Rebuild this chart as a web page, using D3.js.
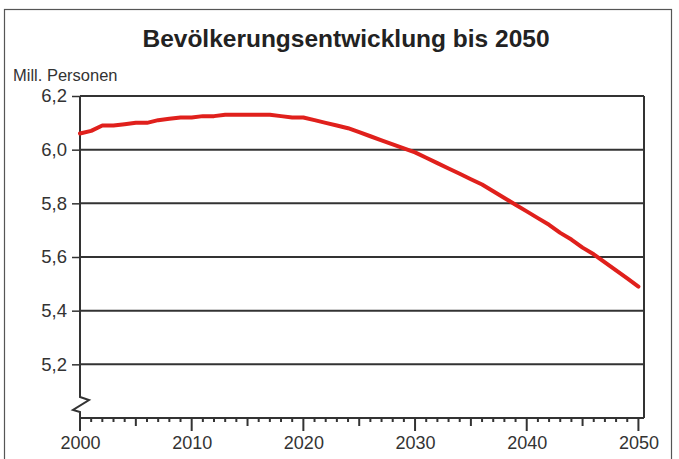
<!DOCTYPE html>
<html>
<head>
<meta charset="utf-8">
<script src="https://cdn.jsdelivr.net/npm/d3@7/dist/d3.min.js"></script>
<style>
  html, body { margin: 0; padding: 0; background: #fff; }
  svg { display: block; }
  text { font-family: "Liberation Sans", Arial, sans-serif; }
</style>
</head>
<body>
<svg id="chart" width="679" height="459"></svg>
<script>
// ---- data ----
const years = [2000,2001,2002,2003,2004,2005,2006,2007,2008,2009,2010,
  2011,2012,2013,2014,2015,2016,2017,2018,2019,2020,
  2021,2022,2023,2024,2025,2026,2027,2028,2029,2030,
  2031,2032,2033,2034,2035,2036,2037,2038,2039,2040,
  2041,2042,2043,2044,2045,2046,2047,2048,2049,2050];
const population = [6.06,6.07,6.09,6.09,6.095,6.10,6.10,6.11,6.115,6.12,6.12,
  6.125,6.125,6.13,6.13,6.13,6.13,6.13,6.125,6.12,6.12,
  6.11,6.10,6.09,6.08,6.065,6.05,6.035,6.02,6.005,5.99,
  5.97,5.95,5.93,5.91,5.89,5.87,5.845,5.82,5.795,5.77,
  5.745,5.72,5.69,5.665,5.635,5.61,5.58,5.55,5.52,5.49];
const yTicks = [5.2,5.4,5.6,5.8,6.0,6.2];
const xTicks = [2000,2010,2020,2030,2040,2050];
const titleText = "Bevölkerungsentwicklung bis 2050";
const yLabel = "Mill. Personen";

// ---- layout ----
const svg = d3.select("#chart");
const pL = 80, pR = 644, pT = 96, pB = 418;
const x = d3.scaleLinear().domain([2000, 2050.5]).range([pL, pR]);
const y = d3.scaleLinear().domain([5.0, 6.2]).range([pB, pT]);
const fmt = d => d.toFixed(1).replace(".", ",");

// outer frame
svg.append("rect").attr("x", 4.5).attr("y", 9.5).attr("width", 667).attr("height", 460)
  .attr("fill", "none").attr("stroke", "#555").attr("stroke-width", 1.2);

// title
svg.append("text").attr("x", 346).attr("y", 47).attr("text-anchor", "middle")
  .attr("font-size", 24.5).attr("font-weight", "bold").attr("fill", "#222").text(titleText);

// y label
svg.append("text").attr("x", 13).attr("y", 80.5).attr("font-size", 16.5)
  .attr("fill", "#333").text(yLabel);

// gridlines
svg.append("g").selectAll("line").data(yTicks).join("line")
  .attr("x1", pL).attr("x2", pR)
  .attr("y1", d => y(d)).attr("y2", d => y(d))
  .attr("stroke", "#333").attr("stroke-width", 2);

// y axis (left side ticks + labels)
const yAxis = d3.axisLeft(y).tickValues(yTicks).tickFormat(fmt).tickSize(8).tickPadding(5);
const gy = svg.append("g").attr("transform", `translate(${pL},0)`).call(yAxis);
gy.select(".domain").remove();
gy.selectAll(".tick line").attr("stroke", "#333").attr("stroke-width", 1.5);
gy.selectAll(".tick text").attr("font-size", 18.5).attr("fill", "#333")
  .attr("font-family", "Liberation Sans, Arial, sans-serif");

// y axis line with break
const yb = y(5.0);
svg.append("path")
  .attr("d", `M${pL},${pT} L${pL},${yb - 21} L${pL + 9},${yb - 18} L${pL - 7},${yb - 8} L${pL},${yb - 6} L${pL},${yb}`)
  .attr("fill", "none").attr("stroke", "#333").attr("stroke-width", 2);

// right border
svg.append("line").attr("x1", pR).attr("x2", pR).attr("y1", pT).attr("y2", pB)
  .attr("stroke", "#333").attr("stroke-width", 2);

// x axis: minor, medium, major ticks
const allYears = d3.range(2000, 2051);
const gx = svg.append("g").attr("transform", `translate(0,${pB})`);
gx.append("line").attr("x1", pL).attr("x2", pR).attr("stroke", "#333").attr("stroke-width", 2);
gx.selectAll("line.tk").data(allYears).join("line").attr("class", "tk")
  .attr("x1", d => x(d)).attr("x2", d => x(d))
  .attr("y1", 0).attr("y2", d => d % 10 === 0 ? 13 : (d % 5 === 0 ? 8 : 4))
  .attr("stroke", "#333").attr("stroke-width", 2);
const xAxis = d3.axisBottom(x).tickValues(xTicks).tickFormat(d3.format("d")).tickSize(0).tickPadding(18);
const gxl = svg.append("g").attr("transform", `translate(0,${pB})`).call(xAxis);
gxl.select(".domain").remove();
gxl.selectAll(".tick text").attr("font-size", 18).attr("fill", "#333")
  .attr("font-family", "Liberation Sans, Arial, sans-serif");

// line
const line = d3.line().x((d, i) => x(years[i])).y(d => y(d));
svg.append("path").datum(population).attr("d", line)
  .attr("fill", "none").attr("stroke", "#e0201c").attr("stroke-width", 4)
  .attr("stroke-linejoin", "round").attr("stroke-linecap", "round");
</script>
</body>
</html>
